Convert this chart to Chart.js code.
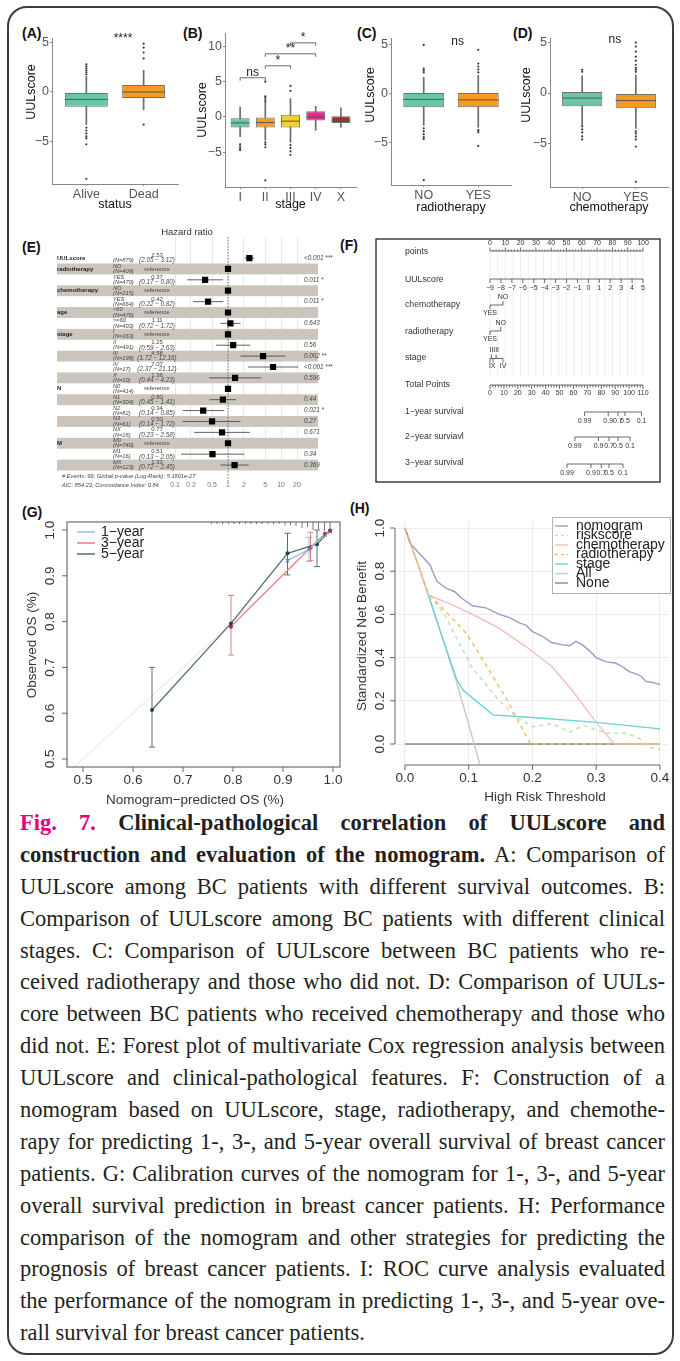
<!DOCTYPE html>
<html>
<head>
<meta charset="utf-8">
<title>Fig. 7</title>
<script src="https://cdn.jsdelivr.net/npm/chart.js@4.4.1/dist/chart.umd.min.js"></script>
<style>
  body { margin: 0; background: #fff; }
  #page { position: relative; width: 680px; height: 1361px; overflow: hidden; font-family: "Liberation Sans", Arial, sans-serif; }
  #frame { position: absolute; left: 7px; top: 6px; width: 667px; height: 1349px; border: 2px solid #3c3c3c; border-radius: 20px; box-sizing: border-box; }
  canvas { position: absolute; }
  .pl { position: absolute; font-weight: bold; font-size: 14px; line-height: 14px; color: #111; }
  #caption { position: absolute; left: 20px; top: 807px; width: 645px; font-family: "Liberation Serif", "Times New Roman", serif; font-size: 22.5px; line-height: 31.9px; color: #231f20; }
  #caption div { text-align: justify; text-align-last: justify; height: 31.9px; }
  #caption div.last { text-align-last: left; }
  .mag { color: #e5007d; }
</style>
</head>
<body>
<div id="page">
  <div id="frame"></div>
  <div class="pl" style="left:22px;top:26px">(A)</div>
  <div class="pl" style="left:183px;top:26px">(B)</div>
  <div class="pl" style="left:357px;top:26px">(C)</div>
  <div class="pl" style="left:513px;top:26px">(D)</div>
  <div class="pl" style="left:22px;top:240px">(E)</div>
  <div class="pl" style="left:340px;top:238px">(F)</div>
  <div class="pl" style="left:22px;top:505px">(G)</div>
  <div class="pl" style="left:350px;top:501px">(H)</div>
  <div id="caption">
    <div><b><span class="mag">Fig. 7.</span> Clinical-pathological correlation of UULscore and</b></div>
    <div><b>construction and evaluation of the nomogram.</b> A: Comparison of</div>
    <div>UULscore among BC patients with different survival outcomes. B:</div>
    <div>Comparison of UULscore among BC patients with different clinical</div>
    <div>stages. C: Comparison of UULscore between BC patients who re-</div>
    <div>ceived radiotherapy and those who did not. D: Comparison of UULs-</div>
    <div>core between BC patients who received chemotherapy and those who</div>
    <div>did not. E: Forest plot of multivariate Cox regression analysis between</div>
    <div>UULscore and clinical-pathological features. F: Construction of a</div>
    <div>nomogram based on UULscore, stage, radiotherapy, and chemothe-</div>
    <div>rapy for predicting 1-, 3-, and 5-year overall survival of breast cancer</div>
    <div>patients. G: Calibration curves of the nomogram for 1-, 3-, and 5-year</div>
    <div>overall survival prediction in breast cancer patients. H: Performance</div>
    <div>comparison of the nomogram and other strategies for predicting the</div>
    <div>prognosis of breast cancer patients. I: ROC curve analysis evaluated</div>
    <div>the performance of the nomogram in predicting 1-, 3-, and 5-year ove-</div>
    <div class="last">rall survival for breast cancer patients.</div>
  </div>
</div>
<script>
const FF = '"Liberation Sans", Arial, sans-serif';

// ---- (A) status ----
const statusCats = ['Alive', 'Dead'];
const statusLo  = [-3.3, -1.8];
const statusQ1  = [-1.5, -0.6];
const statusMed = [-0.75, 0.0];
const statusQ3  = [-0.1, 0.7];
const statusHi  = [1.6, 2.2];
const statusOut = [[1.8, 2.0, 2.2, 2.4, 2.6, 2.8, -3.6, -3.9, -4.2, -4.5, -4.7, -5.3, -8.8], [3.4, 4.0, 4.5, 4.9, -3.3]];
const statusSig = [[1.64, 5.07, '****']];

// ---- (B) stage ----
const stageCats = ['I', 'II', 'III', 'IV', 'X'];
const stageLo  = [-2.8, -3.3, -3.6, -1.9, -1.5];
const stageQ1  = [-1.5, -1.5, -1.5, -0.5, -0.85];
const stageMed = [-0.85, -0.8, -0.6, 0.0, -0.45];
const stageQ3  = [-0.2, -0.1, 0.3, 0.8, 0.1];
const stageHi  = [1.4, 1.9, 2.6, 1.5, 1.3];
const stageOut = [[-3.9, -4.2, -4.5, -4.7], [2.1, 2.4, 2.7, 2.9, 5.0, -3.6, -3.9, -4.3, -9.0], [3.7, 4.4, -4.0, -4.4, -4.9, -5.4], [], []];
const stageSig = [[1, 2, 5.55, 'ns'], [2, 3, 7.25, '*'], [2, 4, 8.95, '**'], [3, 4, 10.5, '*']];

// ---- (C) radiotherapy ----
const radioCats = ['NO', 'YES'];
const radioLo  = [-3.2, -3.4];
const radioQ1  = [-1.35, -1.35];
const radioMed = [-0.55, -0.6];
const radioQ3  = [0.1, 0.1];
const radioHi  = [1.7, 1.9];
const radioOut = [[2.2, 2.4, 2.6, 5.0, -3.5, -3.8, -4.1, -4.4, -4.6, -8.8], [2.2, 2.5, 2.8, 3.1, 4.5, -3.7, -3.9, -5.3]];
const radioSig = [[1.62, 5.0, 'ns']];

// ---- (D) chemotherapy ----
const chemoCats = ['NO', 'YES'];
const chemoLo  = [-3.2, -3.5];
const chemoQ1  = [-1.3, -1.5];
const chemoMed = [-0.5, -0.75];
const chemoQ3  = [0.1, -0.1];
const chemoHi  = [1.7, 1.8];
const chemoOut = [[2.1, 2.3, -3.3, -3.6, -3.9, -4.3, -4.6], [2.1, 2.3, 2.5, 2.8, 3.2, 3.6, 4.1, 4.6, 5.0, -3.8, -4.0, -4.3, -4.6, -5.3, -8.8]];
const chemoSig = [[1.61, 4.95, 'ns']];

// ---- (E) forest plot ----
const fVars   = ['UULscore', 'radiotherapy', '', 'chemotherapy', '', 'age', '', 'stage', '', '', '', '', 'N', '', '', '', '', 'M', '', ''];
const fLevels = ['', 'NO', 'YES', 'NO', 'YES', '<60', '>=60', 'I', 'II', 'III', 'IV', 'X', 'N0', 'N1', 'N2', 'N3', 'NX', 'M0', 'M1', 'MX'];
const fN      = [879, 409, 470, 215, 664, 476, 403, 163, 491, 198, 17, 10, 414, 304, 82, 61, 18, 740, 16, 123];
const fHR     = [2.53, 1, 0.37, 1, 0.42, 1, 1.11, 1, 1.25, 4.58, 7.07, 1.36, 1, 0.80, 0.34, 0.50, 0.77, 1, 0.51, 1.33];
const fLo     = [2.05, null, 0.17, null, 0.22, null, 0.72, null, 0.59, 1.72, 2.37, 0.44, null, 0.45, 0.14, 0.14, 0.23, null, 0.13, 0.72];
const fHi     = [3.12, null, 0.80, null, 0.82, null, 1.72, null, 2.63, 12.16, 21.12, 4.23, null, 1.41, 0.85, 1.72, 2.58, null, 2.05, 2.45];
const fP      = ['<0.001 ***', '', '0.011 *', '', '0.011 *', '', '0.643', '', '0.56', '0.002 **', '<0.001 ***', '0.596', '', '0.44', '0.021 *', '0.27', '0.671', '', '0.34', '0.369'];
const fTicks  = [0.1, 0.2, 0.5, 1, 2, 5, 10, 20];

// ---- (F) nomogram ----
const nomoNames   = ['points', 'UULscore', 'chemotherapy', 'radiotherapy', 'stage', 'Total Points', '1\u2212year survival', '2\u2212year surviavl', '3\u2212year survival'];
const pointTicks  = [0, 10, 20, 30, 40, 50, 60, 70, 80, 90, 100];
const uulTicks    = [-9, -8, -7, -6, -5, -4, -3, -2, -1, 0, 1, 2, 3, 4, 5];
const chemoLevels = ['YES', 'NO'];
const chemoPts    = [0, 8.5];
const radioLevels = ['YES', 'NO'];
const radioPts    = [0, 7];
const stageLevels = ['I', 'II', 'X', 'III', 'IV'];
const stagePts    = [0, 1, 2, 4, 8.5];
const totalTicks  = [0, 10, 20, 30, 40, 50, 60, 70, 80, 90, 100, 110];
const survLabels  = ['0.99', '0.9', '0.7', '0.5', '0.1'];
const surv1Total  = [68, 85, 92, 97, 109];
const surv2Total  = [61, 78, 85.6, 92, 100.7];
const surv3Total  = [55.4, 72.6, 80, 85.6, 95.6];

// ---- (G) calibration ----
const cal1X = [0.909, 0.952, 0.984, 0.994];
const cal1Y = [0.933, 0.958, 0.989, 0.997];
const cal3X = [0.796, 0.955, 0.984, 0.994];
const cal3Y = [0.789, 0.962, 0.992, 0.998];
const cal5X = [0.638, 0.796, 0.909, 0.968, 0.994];
const cal5Y = [0.607, 0.796, 0.949, 0.969, 0.999];
const ebSeries = [5, 5, 5, 3, 3, 1];
const ebX  = [0.638, 0.909, 0.968, 0.796, 0.955, 0.952];
const ebLo = [0.526, 0.902, 0.920, 0.727, 0.933, 0.931];
const ebHi = [0.700, 0.993, 1.000, 0.857, 0.995, 0.984];
const rugX = [0.757, 0.768, 0.779, 0.791, 0.802, 0.813, 0.825, 0.836, 0.847, 0.858, 0.870, 0.881, 0.892, 0.904, 0.915, 0.926, 0.938, 0.949, 0.960, 0.971, 0.983, 0.994];
const rugH = [2, 2, 2, 2, 2, 2, 2, 2, 2, 2, 2, 2, 2, 3, 3, 4, 6, 5, 8, 7, 9, 11];
const calTicks = [0.5, 0.6, 0.7, 0.8, 0.9, 1.0];

// ---- (H) decision curves ----
const nomoX  = [0, 0.008, 0.02, 0.039, 0.05, 0.065, 0.078, 0.089, 0.106, 0.127, 0.148, 0.164, 0.18, 0.19, 0.2, 0.215, 0.23, 0.245, 0.258, 0.268, 0.278, 0.29, 0.3, 0.316, 0.33, 0.34, 0.352, 0.362, 0.37, 0.378, 0.388, 0.4];
const nomoY  = [1.0, 0.93, 0.89, 0.83, 0.753, 0.72, 0.705, 0.675, 0.64, 0.63, 0.60, 0.585, 0.56, 0.55, 0.52, 0.50, 0.47, 0.46, 0.455, 0.475, 0.46, 0.43, 0.40, 0.38, 0.375, 0.36, 0.335, 0.325, 0.315, 0.29, 0.285, 0.275];
const riskX  = [0, 0.02, 0.036, 0.06, 0.081, 0.106, 0.148, 0.175, 0.2, 0.22, 0.23, 0.258, 0.28, 0.316, 0.347, 0.367, 0.383, 0.4];
const riskY  = [1.0, 0.835, 0.70, 0.61, 0.49, 0.35, 0.20, 0.125, 0.08, 0.09, 0.095, 0.055, 0.085, 0.05, 0.05, 0.027, -0.015, -0.025];
const chemX  = [0, 0.02, 0.036, 0.07, 0.106, 0.148, 0.19, 0.23, 0.262, 0.3, 0.328, 0.4];
const chemY  = [1.0, 0.835, 0.69, 0.65, 0.60, 0.535, 0.45, 0.36, 0.25, 0.10, 0.0, 0.0];
const radX   = [0, 0.02, 0.036, 0.065, 0.097, 0.128, 0.159, 0.197, 0.4];
const radY   = [1.0, 0.835, 0.70, 0.61, 0.51, 0.36, 0.21, 0.0, 0.0];
const stgX   = [0, 0.02, 0.04, 0.06, 0.081, 0.091, 0.138, 0.2, 0.3, 0.4];
const stgY   = [1.0, 0.835, 0.66, 0.48, 0.30, 0.25, 0.135, 0.123, 0.10, 0.07];
const allX   = [0, 0.02, 0.04, 0.06, 0.08, 0.1, 0.117];
const allY   = [1.0, 0.835, 0.66, 0.48, 0.295, 0.09, -0.09];
const noneX  = [0, 0.4];
const noneY  = [0, 0];
const dcaXTicks = [0, 0.1, 0.2, 0.3, 0.4];
const dcaYTicks = [0, 0.2, 0.4, 0.6, 0.8, 1.0];

Chart.defaults.animation = false;
Chart.defaults.responsive = false;
Chart.defaults.events = [];
Chart.defaults.font.family = FF;
Chart.defaults.plugins.legend.display = false;
Chart.defaults.plugins.tooltip.enabled = false;

// keep each caption line on one line
document.querySelectorAll('#caption div').forEach(d => {
  let fs = 22.5;
  d.style.height = 'auto';
  while (d.offsetHeight > 33 && fs > 18) { fs -= 0.25; d.style.fontSize = fs + 'px'; }
  d.style.height = '31.9px';
});

function mk(id, l, t, w, h) {
  const c = document.createElement('canvas');
  c.id = id; c.width = w; c.height = h;
  c.style.left = l + 'px'; c.style.top = t + 'px';
  document.getElementById('page').appendChild(c);
  return c;
}
function seg(c, x1, y1, x2, y2) { c.beginPath(); c.moveTo(x1, y1); c.lineTo(x2, y2); c.stroke(); }
function txt(c, s, x, y, font, color, align, base) {
  c.save(); c.font = font; c.fillStyle = color; c.textAlign = align || 'left'; c.textBaseline = base || 'middle';
  c.fillText(s, x, y); c.restore();
}
function vtxt(c, s, x, y, font, color) {
  c.save(); c.translate(x, y); c.rotate(-Math.PI / 2); c.font = font; c.fillStyle = color;
  c.textAlign = 'center'; c.textBaseline = 'middle'; c.fillText(s, 0, 0); c.restore();
}
const pts = (xs, ys) => xs.map((x, i) => ({x: x, y: ys[i]}));

// ---------- box plots ----------
function boxPlot(cv, o) {
  const xs = o.cats.map((c, i) => i + 1);
  const outPts = [];
  o.out.forEach((arr, i) => arr.forEach(v => outPts.push({x: i + 1, y: v})));
  return new Chart(cv, {
    type: 'bar',
    data: {datasets: [
      {data: xs.map((x, i) => ({x: x, y: [o.lo[i], o.hi[i]]})), backgroundColor: '#6b6b6b', barThickness: 1, grouped: false, order: 3},
      {data: xs.map((x, i) => ({x: x, y: [o.q1[i], o.q3[i]]})), backgroundColor: o.fill, borderColor: '#707070', borderWidth: 1,
       borderSkipped: false, barPercentage: 0.75, categoryPercentage: 1, grouped: false, order: 2},
      {type: 'scatter', data: outPts, pointRadius: 1.1, pointBackgroundColor: '#3a3a3a', pointBorderWidth: 0, order: 1}
    ]},
    options: {
      layout: {padding: {left: 0, top: o.pt, right: o.pr, bottom: 0}},
      scales: {
        x: {type: 'linear', min: 0.4, max: o.cats.length + 0.6, offset: false,
            afterBuildTicks: s => { s.ticks = xs.map(v => ({value: v})); },
            afterFit: s => { s.height = o.xh; },
            ticks: {callback: v => o.cats[Math.round(v) - 1], color: '#555', font: {size: 12.5}, padding: 1, maxRotation: 0, autoSkip: false},
            grid: {drawOnChartArea: false, tickLength: 2, color: '#888', offset: false},
            border: {color: '#888'},
            title: {display: true, text: o.xt, color: '#111', font: {size: 12.5}, padding: {top: 0, bottom: o.tb}}},
        y: {min: o.min, max: o.max,
            afterBuildTicks: s => { s.ticks = o.yt.map(v => ({value: v})); },
            afterFit: s => { s.width = o.yw; },
            ticks: {callback: v => v < 0 ? '\u2212' + (-v) : String(v), color: '#555', font: {size: 12.5}, padding: 1},
            grid: {drawOnChartArea: false, tickLength: 2, color: '#888'},
            border: {color: '#888'}}
      }
    },
    plugins: [{
      id: 'boxExtras',
      afterDatasetsDraw(chart) {
        const c = chart.ctx, sx = chart.scales.x, sy = chart.scales.y;
        c.save();
        c.strokeStyle = '#555'; c.lineWidth = 1;
        chart.getDatasetMeta(1).data.forEach((el, i) => {
          const y = sy.getPixelForValue(o.med[i]);
          seg(c, el.x - el.width / 2, y, el.x + el.width / 2, y);
        });
        c.strokeStyle = '#444'; c.lineWidth = 0.8;
        (o.brackets || []).forEach(b => {
          const x1 = sx.getPixelForValue(b[0]), x2 = sx.getPixelForValue(b[1]), y = sy.getPixelForValue(b[2]);
          c.beginPath(); c.moveTo(x1, y + 3); c.lineTo(x1, y); c.lineTo(x2, y); c.lineTo(x2, y + 3); c.stroke();
          txt(c, b[3], (x1 + x2) / 2, y - 2, '12px ' + FF, '#222', 'center', 'alphabetic');
        });
        (o.texts || []).forEach(t => {
          txt(c, t[2], sx.getPixelForValue(t[0]), sy.getPixelForValue(t[1]), '12px ' + FF, '#222', 'center', 'alphabetic');
        });
        vtxt(c, 'UULscore', o.ytx, o.yty, '12.5px ' + FF, '#111');
        c.restore();
      }
    }]
  });
}

boxPlot(mk('cA', 10, 20, 172, 200), {cats: statusCats, lo: statusLo, q1: statusQ1, med: statusMed, q3: statusQ3, hi: statusHi, out: statusOut,
  fill: ['#68c6a9', '#f59a23'], texts: statusSig, xt: 'status', min: -9.32, max: 5.47, yt: [-5, 0, 5],
  pt: 18, pr: 2, xh: 36, yw: 42, tb: 8, ytx: 22, yty: 72});
boxPlot(mk('cB', 190, 20, 170, 200), {cats: stageCats, lo: stageLo, q1: stageQ1, med: stageMed, q3: stageQ3, hi: stageHi, out: stageOut,
  fill: ['#68c6a9', '#f59a23', '#f5cf2f', '#e8288f', '#a8262a'], brackets: stageSig, xt: 'stage', min: -9.94, max: 11.9, yt: [-5, 0, 5, 10],
  pt: 13, pr: 2.4, xh: 33, yw: 35, tb: 8, ytx: 13, yty: 90});
boxPlot(mk('cC', 355, 20, 160, 200), {cats: radioCats, lo: radioLo, q1: radioQ1, med: radioMed, q3: radioQ3, hi: radioHi, out: radioOut,
  fill: ['#68c6a9', '#f59a23'], texts: radioSig, xt: 'radiotherapy', min: -9.29, max: 5.71, yt: [-5, 0, 5],
  pt: 18, pr: 3, xh: 35, yw: 36, tb: 5, ytx: 16, yty: 75});
boxPlot(mk('cD', 510, 20, 162, 200), {cats: chemoCats, lo: chemoLo, q1: chemoQ1, med: chemoMed, q3: chemoQ3, hi: chemoHi, out: chemoOut,
  fill: ['#68c6a9', '#f59a23'], texts: chemoSig, xt: 'chemotherapy', min: -9.31, max: 5.45, yt: [-5, 0, 5],
  pt: 18, pr: 3, xh: 33, yw: 40, tb: 5, ytx: 17, yty: 75});

// ---------- (E) forest ----------
const ciSets = [];
fHR.forEach((v, i) => {
  if (fLo[i] !== null) ciSets.push({data: [{x: fLo[i], y: i}, {x: fHi[i], y: i}], showLine: true, pointRadius: 0,
    borderColor: '#3a3a3a', borderWidth: 0.8, clip: false, order: 2});
});
new Chart(mk('cE', 50, 225, 285, 270), {
  type: 'scatter',
  data: {datasets: [
    {data: fHR.map((v, i) => ({x: v, y: i})), pointStyle: 'rect', pointRadius: 4.4, pointBackgroundColor: '#000', pointBorderWidth: 0, order: 0},
    ...ciSets,
    {data: [{x: 1, y: -1.93}, {x: 1, y: 20.65}], showLine: true, pointRadius: 0, borderColor: '#555', borderWidth: 0.8,
     borderDash: [1.5, 1.5], clip: false, order: 3}
  ]},
  options: {
    layout: {padding: {left: 125, right: 38, top: 12, bottom: 0}},
    scales: {
      x: {type: 'logarithmic', min: 0.1, max: 20,
          afterBuildTicks: s => { s.ticks = fTicks.map(v => ({value: v})); },
          afterFit: s => { s.height = 24.5; },
          ticks: {callback: v => String(v), color: '#777', font: {size: 7}, padding: 10, maxRotation: 0, autoSkip: false},
          grid: {color: '#e2e2e2', lineWidth: 0.8, drawTicks: false},
          border: {display: false}},
      y: {display: false, reverse: true, min: -1.93, max: 19.5}
    }
  },
  plugins: [{
    id: 'forest',
    beforeDatasetsDraw(chart) {
      const c = chart.ctx, sy = chart.scales.y;
      c.save(); c.fillStyle = '#ccc5be';
      fHR.forEach((v, i) => {
        if (i % 2 === 1) {
          const y0 = sy.getPixelForValue(i - 0.5), y1 = sy.getPixelForValue(i + 0.5);
          c.fillRect(7, y0, 261, y1 - y0);
        }
      });
      c.restore();
    },
    afterDraw(chart) {
      const c = chart.ctx, sy = chart.scales.y;
      const it = '6px ' + FF, iti = 'italic 5.7px ' + FF;
      txt(c, 'Hazard ratio', 137, 7, '9.5px ' + FF, '#333', 'center');
      fHR.forEach((v, i) => {
        const y = sy.getPixelForValue(i);
        if (fVars[i]) txt(c, fVars[i], 7, y, 'bold 6px ' + FF, '#222');
        if (fLevels[i]) {
          txt(c, fLevels[i], 63, y - 2.6, iti, '#444');
          txt(c, '(N=' + fN[i] + ')', 63, y + 2.6, iti, '#444');
        } else {
          txt(c, '(N=' + fN[i] + ')', 63, y + 2.6, iti, '#444');
        }
        if (fLo[i] === null) {
          txt(c, 'reference', 107, y, it, '#444', 'center');
        } else {
          txt(c, v.toFixed(2), 107, y - 2.6, it, '#444', 'center');
          txt(c, '(' + fLo[i].toFixed(2) + ' \u2212 ' + fHi[i].toFixed(2) + ')', 107, y + 2.6, 'italic 6.3px ' + FF, '#444', 'center');
        }
        if (fP[i]) txt(c, fP[i], 254, y, 'italic 6.3px ' + FF, '#444');
      });
      txt(c, '# Events: 96; Global p-value (Log-Rank): 5.1801e-27', 12, 251, iti, '#444');
      txt(c, 'AIC: 854.23; Concordance Index: 0.84', 12, 260, iti, '#444');
    }
  }]
});

// ---------- (F) nomogram ----------
new Chart(mk('cF', 375, 238, 286, 245), {
  type: 'scatter',
  data: {datasets: []},
  options: {
    layout: {padding: {left: 115, right: 18, top: 0, bottom: 0}},
    scales: {x: {display: false, min: 0, max: 100}, y: {display: false, min: 0, max: 1}}
  },
  plugins: [{
    id: 'nomo',
    afterDraw(chart) {
      const c = chart.ctx, sx = chart.scales.x;
      const X = p => sx.getPixelForValue(p);
      const lab = '8.7px ' + FF, tk = '7px ' + FF;
      const rowY = [14, 42, 67, 94, 120, 147, 174, 199, 225];
      c.save();
      c.strokeStyle = '#222'; c.lineWidth = 1.3;
      c.strokeRect(1, 1, chart.width - 2, chart.height - 2);
      c.strokeStyle = '#e6e6e6'; c.lineWidth = 0.7;
      for (let p = 0; p <= 100; p += 5) seg(c, X(p), 13, X(p), 138);
      nomoNames.forEach((n, i) => txt(c, n, 30, rowY[i], lab, '#333'));
      c.strokeStyle = '#444'; c.lineWidth = 0.8;
      // points
      seg(c, X(0), 13, X(100), 13);
      for (let p = 0; p <= 100; p += 2) seg(c, X(p), 13, X(p), p % 10 === 0 ? 9.5 : 11.5);
      pointTicks.forEach(p => txt(c, String(p), X(p), 5.5, tk, '#333', 'center'));
      // UULscore
      const uP = u => (u - uulTicks[0]) / (uulTicks[uulTicks.length - 1] - uulTicks[0]) * 100;
      seg(c, X(0), 41, X(100), 41);
      uulTicks.forEach(u => { seg(c, X(uP(u)), 41, X(uP(u)), 45); txt(c, u < 0 ? '\u2212' + (-u) : String(u), X(uP(u)), 50, tk, '#333', 'center'); });
      // categorical axes
      function catAxis(levels, pv, y) {
        seg(c, X(Math.min(...pv)), y, X(Math.max(...pv)), y);
        levels.forEach((l, i) => {
          const dn = i % 2 === 0, x = X(pv[i]);
          seg(c, x, y, x, dn ? y + 4 : y - 4);
          txt(c, l, x, dn ? y + 8 : y - 8, tk, '#333', 'center');
        });
      }
      catAxis(chemoLevels, chemoPts, 67);
      catAxis(radioLevels, radioPts, 93);
      catAxis(stageLevels, stagePts, 120.5);
      // total points
      const tP = t => t / totalTicks[totalTicks.length - 1] * 100;
      seg(c, X(0), 147, X(100), 147);
      for (let t = 0; t <= 110; t += 2) seg(c, X(tP(t)), 147, X(tP(t)), t % 10 === 0 ? 151 : 149.5);
      totalTicks.forEach(t => txt(c, String(t), X(tP(t)), 155.5, tk, '#333', 'center'));
      // survival axes
      [[surv1Total, 174], [surv2Total, 199], [surv3Total, 226]].forEach(([tv, y]) => {
        seg(c, X(tP(tv[0])), y, X(tP(tv[tv.length - 1])), y);
        tv.forEach((t, i) => { seg(c, X(tP(t)), y, X(tP(t)), y + 4); txt(c, survLabels[i], X(tP(t)), y + 9, tk, '#333', 'center'); });
      });
      c.restore();
    }
  }]
});

// ---------- (G) calibration ----------
const calColor = {1: '#94bce3', 3: '#e2807f', 5: '#52716f'};
const ebSets = ebX.map((x, i) => ({data: [{x: x, y: ebLo[i]}, {x: x, y: ebHi[i]}], showLine: true, pointStyle: 'line',
  pointRadius: 3, pointBorderColor: calColor[ebSeries[i]], pointBorderWidth: 1, borderColor: calColor[ebSeries[i]], borderWidth: 1, clip: false, order: 4}));
new Chart(mk('cG', 0, 500, 345, 320), {
  type: 'scatter',
  data: {datasets: [
    {data: [{x: 0.4825, y: 0.4825}, {x: 1.0175, y: 1.0175}], showLine: true, pointRadius: 0, borderColor: '#e2e2e2', borderWidth: 1, order: 5},
    ...ebSets,
    {label: '1\u2212year', data: pts(cal1X, cal1Y), showLine: true, borderColor: calColor[1], borderWidth: 1.3, pointStyle: 'crossRot', pointRadius: 2.5, pointBorderColor: '#3b6fb8', pointBorderWidth: 1, clip: false, order: 1},
    {label: '3\u2212year', data: pts(cal3X, cal3Y), showLine: true, borderColor: calColor[3], borderWidth: 1.3, pointStyle: 'circle', pointRadius: 2, pointBackgroundColor: '#c0203a', pointBorderWidth: 0, clip: false, order: 2},
    {label: '5\u2212year', data: pts(cal5X, cal5Y), showLine: true, borderColor: calColor[5], borderWidth: 1.3, pointStyle: 'circle', pointRadius: 2, pointBackgroundColor: '#1e3e5a', pointBorderWidth: 0, clip: false, order: 3}
  ]},
  options: {
    layout: {padding: {left: 0, top: 22, right: 2, bottom: 0}},
    scales: {
      x: {min: 0.468, max: 1.014, afterFit: s => { s.height = 53; }, ticks: {display: false}, grid: {display: false}, border: {display: false}},
      y: {min: 0.4825, max: 1.0175, afterFit: s => { s.width = 67; }, ticks: {display: false}, grid: {display: false}, border: {display: false}}
    }
  },
  plugins: [{
    id: 'calAxes',
    afterDraw(chart) {
      const c = chart.ctx, sx = chart.scales.x, sy = chart.scales.y, a = chart.chartArea;
      c.save();
      c.strokeStyle = '#8a8a8a'; c.lineWidth = 1.5;
      c.strokeRect(a.left, a.top, a.right - a.left, a.bottom - a.top);
      c.strokeStyle = '#555'; c.lineWidth = 0.8;
      rugX.forEach((v, i) => seg(c, sx.getPixelForValue(v), a.top, sx.getPixelForValue(v), a.top + rugH[i]));
      c.strokeStyle = '#666'; c.lineWidth = 1;
      calTicks.forEach(v => {
        const px = sx.getPixelForValue(v);
        seg(c, px, a.bottom, px, a.bottom + 5);
        txt(c, v.toFixed(1), px, 280, '13.5px ' + FF, '#333', 'center');
        const py = sy.getPixelForValue(v);
        seg(c, a.left - 5, py, a.left, py);
        vtxt(c, v.toFixed(1), 50, py, '13.5px ' + FF, '#333');
      });
      txt(c, 'Nomogram\u2212predicted OS (%)', 195, 300, '13.5px ' + FF, '#333', 'center');
      vtxt(c, 'Observed OS (%)', 32, 145, '13.5px ' + FF, '#333');
      chart.data.datasets.filter(d => d.label).forEach((d, i) => {
        const y = 32 + i * 11;
        c.strokeStyle = d.borderColor; c.lineWidth = 1.5;
        seg(c, 77, y, 95, y);
        txt(c, d.label, 101, y, '14px ' + FF, '#222');
      });
      c.restore();
    }
  }]
});

// ---------- (H) decision curves ----------
const dcaSets = [
  {label: 'nomogram', x: nomoX, y: nomoY, color: '#9f99cc', dash: [], order: 1},
  {label: 'riskscore', x: riskX, y: riskY, color: '#b3e2b3', dash: [4, 4], order: 2},
  {label: 'chemotherapy', x: chemX, y: chemY, color: '#f5bcc5', dash: [], order: 3},
  {label: 'radiotherapy', x: radX, y: radY, color: '#f0bc5e', dash: [4, 4], order: 0},
  {label: 'stage', x: stgX, y: stgY, color: '#68d4d4', dash: [], order: 4},
  {label: 'All', x: allX, y: allY, color: '#c9c9c9', dash: [], order: 5},
  {label: 'None', x: noneX, y: noneY, color: '#8a8a8a', dash: [], order: 6}
];
new Chart(mk('cH', 345, 500, 335, 318), {
  type: 'scatter',
  data: {datasets: dcaSets.map(d => ({label: d.label, data: pts(d.x, d.y), showLine: true, pointRadius: 0,
    borderColor: d.color, borderWidth: 1.4, borderDash: d.dash, order: d.order}))},
  options: {
    layout: {padding: {left: 0, top: 21.5, right: 11, bottom: 0}},
    scales: {
      x: {min: -0.01255, max: 0.4142, afterBuildTicks: s => { s.ticks = dcaXTicks.map(v => ({value: v})); },
          afterFit: s => { s.height = 52.5; }, ticks: {display: false}, grid: {color: '#ececec', drawTicks: false}, border: {display: false}},
      y: {min: -0.0995, max: 1.0301, afterBuildTicks: s => { s.ticks = dcaYTicks.map(v => ({value: v})); },
          afterFit: s => { s.width = 52; }, ticks: {display: false}, grid: {color: '#ececec', drawTicks: false}, border: {display: false}}
    }
  },
  plugins: [{
    id: 'dcaAxes',
    afterDraw(chart) {
      const c = chart.ctx, sx = chart.scales.x, sy = chart.scales.y, a = chart.chartArea;
      c.save();
      c.strokeStyle = '#666'; c.lineWidth = 1;
      seg(c, 50, sy.getPixelForValue(0), 50, sy.getPixelForValue(1));
      dcaYTicks.forEach(v => { const py = sy.getPixelForValue(v); seg(c, 45, py, 50, py); vtxt(c, v.toFixed(1), 35, py, '13.5px ' + FF, '#333'); });
      seg(c, sx.getPixelForValue(0), 265, sx.getPixelForValue(0.4), 265);
      dcaXTicks.forEach(v => { const px = sx.getPixelForValue(v); seg(c, px, 265, px, 270); txt(c, v.toFixed(1), px, 278, '13.5px ' + FF, '#333', 'center'); });
      txt(c, 'High Risk Threshold', 200, 297, '13.5px ' + FF, '#333', 'center');
      vtxt(c, 'Standardized Net Benefit', 17, 136, '13.5px ' + FF, '#333');
      // legend
      c.fillStyle = '#fff'; c.fillRect(207, 17, 119, 77);
      c.strokeStyle = '#b5b5b5'; c.lineWidth = 1; c.strokeRect(207.5, 17.5, 118, 76);
      dcaSets.forEach((d, i) => {
        const y = 26 + i * 9.5;
        c.strokeStyle = d.color; c.lineWidth = 1.4; c.setLineDash(d.dash.length ? [3, 3] : []);
        seg(c, 210, y, 223, y);
        c.setLineDash([]);
        txt(c, d.label, 231, y, '14px ' + FF, '#222');
      });
      c.restore();
    }
  }]
});
</script>
</body>
</html>
